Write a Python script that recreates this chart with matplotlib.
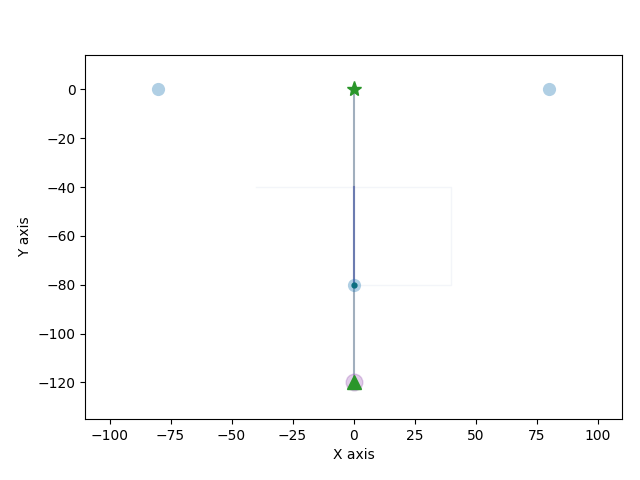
import matplotlib
matplotlib.use('Agg')
from matplotlib import pyplot as plt

# node positions
pts_x = [-80, 80, 0]
pts_y = [0, 0, -80]
star_xy = (0, 0)
tri_xy = (0, -120)
stem_x = [0, 0]
stem_y = [0, -120]
seg_x = [0, 0]
seg_y = [-40, -80]
box_x = [-40, 40, 40, 0]
box_y = [-40, -40, -80, -80]

fig = plt.figure(figsize=(6.4, 4.8), dpi=100)
ax = fig.add_axes([0.133, 0.127, 0.839, 0.758])

# faint box outline
ax.plot(box_x, box_y, color='#d0dae8', lw=1, alpha=0.25)

# stem and highlighted segment
ax.plot(stem_x, stem_y, color='#6f849c', lw=1.5, alpha=0.65)
ax.plot(seg_x, seg_y, color='#4a5aa8', lw=1.5, alpha=0.6)

# points
ax.plot(pts_x, pts_y, 'o', color='#1f77b4', ms=9.5, alpha=0.35, mec='none')
ax.plot([0], [-80], 'o', color='#0b6e80', ms=3.5)
ax.plot([tri_xy[0]], [tri_xy[1]], 'o', color='#9b59b6', ms=12, alpha=0.3, mec='#9b59b6')
ax.plot([tri_xy[0]], [tri_xy[1]], '^', color='#2a962a', ms=10)
ax.plot([star_xy[0]], [star_xy[1]], '*', color='#2a962a', ms=11)

ax.set_xlim(-110, 110)
ax.set_ylim(-135, 14)
ax.set_xlabel('X axis')
ax.set_ylabel('Y axis')

plt.savefig('out.png')
